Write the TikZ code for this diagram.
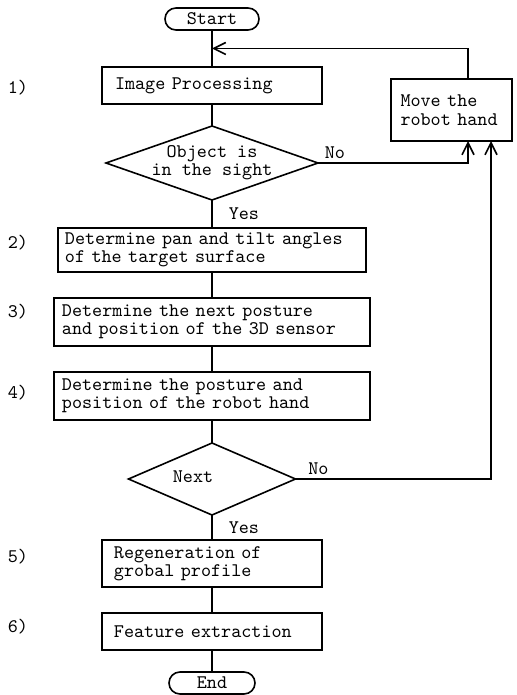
\documentclass[tikz,border=0pt]{standalone}
\usepackage{fontspec}
\usepackage{tikz}
\usetikzlibrary{shapes.geometric, shapes.misc, arrows.meta, positioning, calc}
\newcommand{\flowfont}{\ttfamily\fontsize{9.6}{9.2}\selectfont}
\tikzset{
  procbox/.style={rectangle, draw, line width=0.8pt, align=left, inner xsep=4pt,
                  inner ysep=0pt, outer sep=0pt, font=\flowfont},
  termbox/.style={rounded rectangle, draw, line width=0.8pt, minimum height=11pt,
                  inner sep=0pt, outer sep=0pt, font=\flowfont},
  decbox/.style={diamond, draw, line width=0.8pt, inner sep=0pt, outer sep=0pt},
  link/.style={line width=0.8pt},
  back/.style={line width=0.8pt, -{Straight Barb[length=6pt, width=6pt]}}
}

\begin{document}
\begin{tikzpicture}[node distance=13pt,
    steplbl/.style={font=\flowfont, inner sep=0pt},
    yeslbl/.style={font=\flowfont, inner sep=0pt, midway, right, xshift=8pt},
    nolbl/.style={font=\flowfont, inner sep=0pt, pos=0, anchor=south west}]
    \useasboundingbox (-106pt,9.5pt) rectangle (152pt,-338pt);
    \node[termbox, minimum width=47pt] (start) {Start};
    \node[procbox, text width=97pt, inner xsep=6.5pt, minimum height=18.5pt,
          below=18.5pt of start] (ip) {Image Processing};
    \node[decbox, minimum width=106pt, minimum height=37pt, below=11pt of ip] (sight) {};
    \node[font=\flowfont, align=center, inner sep=0pt] (sighttxt) at (sight)
      {Object is\\in the sight};
    \node[procbox, text width=147pt, inner xsep=3.5pt, minimum height=22pt,
          below=14pt of sight] (pan)
      {Determine pan and tilt angles\\of the target surface};
    \node[procbox, text width=150pt, minimum height=24pt, below=of pan] (sensor)
      {Determine the next posture\\and position of the 3D sensor};
    \node[procbox, text width=150pt, minimum height=24pt, below=of sensor] (hand)
      {Determine the posture and\\position of the robot hand};
    \node[decbox, minimum width=83.5pt, minimum height=36pt, below=11.5pt of hand] (next) {};
    \node[font=\flowfont, inner sep=0pt, xshift=-9.5pt, yshift=1pt] (nexttxt) at (next) {Next};
    \node[procbox, text width=98pt, inner xsep=6pt, minimum height=23.5pt,
          below=12.5pt of next] (regen) {Regeneration of\\grobal profile};
    \node[procbox, text width=98pt, inner xsep=6pt, minimum height=18.5pt,
          below=of regen] (feat) {Feature extraction};
    \node[termbox, minimum width=43pt, below=11pt of feat] (stop) {End};
    \node[procbox, text width=51pt, inner xsep=4.75pt, minimum height=31pt,
          right=34.5pt of ip, yshift=-12.25pt] (move) {Move the\\robot hand};

    \coordinate (col) at (-97pt,0);
    \node[steplbl, yshift=-1.25pt] (n1) at (col |- ip) {1)};
    \node[steplbl, yshift=3.5pt] (n2) at (col |- pan) {2)};
    \node[steplbl, yshift=5pt] (n3) at (col |- sensor) {3)};
    \node[steplbl, yshift=1.5pt] (n4) at (col |- hand) {4)};
    \node[steplbl, yshift=3.25pt] (n5) at (col |- regen) {5)};
    \node[steplbl, yshift=2.25pt] (n6) at (col |- feat) {6)};

    \coordinate (join) at ($(start.south)!.5!(ip.north)$);
    \draw[link] (start) -- (ip);
    \draw[link] (ip) -- (sight);
    \draw[link] (sight) -- node[yeslbl] {Yes} (pan);
    \draw[link] (pan) -- (sensor);
    \draw[link] (sensor) -- (hand);
    \draw[link] (hand) -- (next);
    \draw[link] (next) -- node[yeslbl] {Yes} (regen);
    \draw[link] (regen) -- (feat);
    \draw[link] (feat) -- (stop);
    \draw[back] ([xshift=8.25pt]move.north) |- (join);
    \draw[back] (sight.east) -| node[nolbl, xshift=3pt, yshift=2pt] {No}
      ([xshift=8.25pt]move.south);
    \draw[back] (next.east) -| node[nolbl, xshift=6pt, yshift=2pt] {No}
      ([xshift=19.75pt]move.south);
  \end{tikzpicture}
\end{document}
